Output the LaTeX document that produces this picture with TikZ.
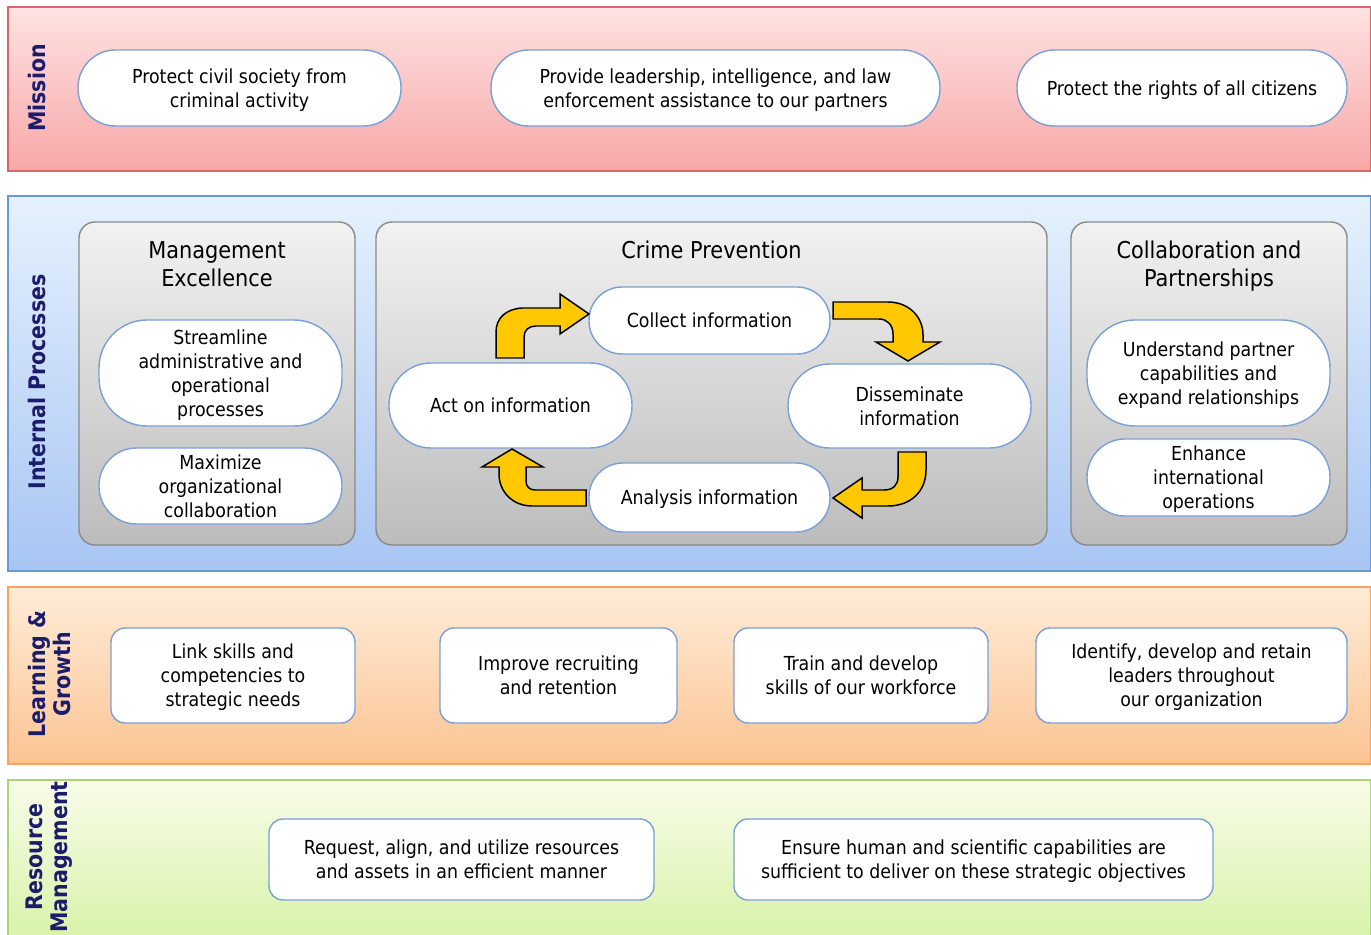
\documentclass[tikz,border=0pt]{standalone}
\usepackage{fontspec}
\setmainfont{DejaVu Sans Condensed}
\definecolor{navy}{RGB}{28,28,108}
\definecolor{pillblue}{RGB}{122,160,214}
\definecolor{gold}{RGB}{255,200,0}
\definecolor{mtop}{RGB}{255,226,226}
\definecolor{mbot}{RGB}{247,168,168}
\definecolor{mline}{RGB}{217,102,104}
\definecolor{itop}{RGB}{229,241,253}
\definecolor{ibot}{RGB}{168,197,243}
\definecolor{iline}{RGB}{104,152,214}
\definecolor{ltop}{RGB}{254,236,215}
\definecolor{lbot}{RGB}{252,196,148}
\definecolor{lline}{RGB}{247,162,94}
\definecolor{rtop}{RGB}{248,252,232}
\definecolor{rbot}{RGB}{214,242,166}
\definecolor{rline}{RGB}{172,212,120}
\definecolor{gtop}{RGB}{242,242,242}
\definecolor{gbot}{RGB}{188,188,188}
\definecolor{gline}{RGB}{138,138,138}
\begin{document}
\begin{tikzpicture}[x=0.02cm,y=-0.02cm,
  wh/.style 2 args={minimum width=#1*0.02cm, minimum height=#2*0.02cm},
  rc/.style={rounded corners=#1*0.02cm},
  band/.style={draw, line width=1.1pt, inner sep=0pt, anchor=north west},
  lab/.style={rotate=90, align=center, text=navy,
    font=\bfseries\fontsize{13}{14.2}\selectfont},
  group/.style={draw=gline, line width=0.8pt, top color=gtop, bottom color=gbot,
    rc=16, inner sep=0pt},
  gtitle/.style={align=center, text depth=0pt, font=\fontsize{13.2}{15.9}\selectfont},
  pill/.style={draw=pillblue, line width=0.8pt, fill=white, align=center,
    inner sep=0pt, text depth=0pt, font=\fontsize{11}{13.6}\selectfont},
  blockarrow/.style={draw=black, line width=0.85pt, fill=gold, line join=miter}
]
\useasboundingbox (0,0) rectangle (1371,935);
\clip (0,0) rectangle (1371,935);

% ---- bands ----
\node[band, draw=mline, top color=mtop, bottom color=mbot, wh={1363}{164}] (bandM) at (7,6) {};
\node[band, draw=iline, top color=itop, bottom color=ibot, wh={1363}{375}] (bandI) at (7,195) {};
\node[band, draw=lline, top color=ltop, bottom color=lbot, wh={1363}{177}] (bandL) at (7,586) {};
\node[band, draw=rline, top color=rtop, bottom color=rbot, wh={1363}{170}] (bandR) at (7,779) {};

% ---- band labels ----
\node[lab] (labM) at (37,88) {Mission};
\node[lab] (labI) at (37,382) {Internal Processes};
\node[lab] (labL) at (49.5,674) {Learning \&\\Growth};
\node[lab] (labR) at (49.5,857) {Resource\\Management};

% ---- mission ----
\node[pill, wh={323}{76}, rc=37.5] (m1) at (239.5,88) {Protect civil society from\\criminal activity};
\node[pill, wh={449}{76}, rc=37.5] (m2) at (715.5,88) {Provide leadership, intelligence, and law\\enforcement assistance to our partners};
\node[pill, wh={330}{76}, rc=37.5] (m3) at (1182,88) {Protect the rights of all citizens};

% ---- internal process groups ----
\node[group, wh={276}{323}] (g1) at (217,383.5) {};
\node[group, wh={671}{323}] (g2) at (711.5,383.5) {};
\node[group, wh={276}{323}] (g3) at (1209,383.5) {};
\node[gtitle] (t1) at (217,264) {Management\\Excellence};
\node[gtitle] (t2) at (711.5,250) {Crime Prevention};
\node[gtitle] (t3) at (1209,264) {Collaboration and\\Partnerships};

\node[pill, wh={243}{106}, rc=48] (stream) at (220.5,373) {Streamline\\administrative and\\operational\\processes};
\node[pill, wh={243}{76}, rc=37.5] (maxim) at (220.5,486) {Maximize\\organizational\\collaboration};

\node[pill, wh={241}{67}, rc=33] (collect) at (709.5,320.5) {Collect information};
\node[pill, wh={243}{85}, rc=42] (act) at (510.5,405.5) {Act on information};
\node[pill, wh={243}{84}, rc=41.5] (dissem) at (909.5,406) {Disseminate\\information};
\node[pill, wh={241}{69}, rc=34] (analysis) at (709.5,497.5) {Analysis information};

\node[pill, wh={243}{106}, rc=48] (partner) at (1208.5,373) {Understand partner\\capabilities and\\expand relationships};
\node[pill, wh={243}{77}, rc=38] (intl) at (1208.5,477.5) {Enhance\\international\\operations};

% ---- cycle arrows ----
% act -> collect
\filldraw[blockarrow] (496,358) -- (496,332)
  .. controls (496,318) and (506,309) .. (522,308) -- (560,308) -- (560,294)
  -- (589,314) -- (560,334) -- (560,326) -- (536,326)
  .. controls (529,326) and (524,330) .. (524,337) -- (524,358) -- cycle;
% collect -> disseminate
\filldraw[blockarrow] (833,302) -- (888,302)
  .. controls (908,302) and (923,316) .. (923,335) -- (923,342) -- (940,342)
  -- (908,361) -- (876,342) -- (893,342) -- (893,334)
  .. controls (893,325) and (887,319) .. (879,319) -- (833,319) -- cycle;
% disseminate -> analysis
\filldraw[blockarrow] (898,452) -- (926,452) -- (926,470)
  .. controls (926,492) and (910,506) .. (888,506) -- (862,506) -- (862,518)
  -- (833,498) -- (862,478) -- (862,490) -- (884,490)
  .. controls (893,490) and (898,485) .. (898,477) -- cycle;
% analysis -> act
\filldraw[blockarrow] (586,490) -- (586,506) -- (532,506)
  .. controls (513,506) and (499,492) .. (499,474) -- (499,467) -- (482,467)
  -- (512,449) -- (543,467) -- (526,467) -- (526,481)
  .. controls (526,486) and (529,490) .. (535,490) -- cycle;

% ---- learning & growth ----
\node[pill, wh={244}{95}, rc=14] (l1) at (233,675.5) {Link skills and\\competencies to\\strategic needs};
\node[pill, wh={237}{95}, rc=14] (l2) at (558.5,675.5) {Improve recruiting\\and retention};
\node[pill, wh={254}{95}, rc=14] (l3) at (861,675.5) {Train and develop\\skills of our workforce};
\node[pill, wh={311}{95}, rc=14] (l4) at (1191.5,675.5) {Identify, develop and retain\\leaders throughout\\our organization};

% ---- resource management ----
\node[pill, wh={385}{81}, rc=14] (r1) at (461.5,859.5) {Request, align, and utilize resources\\and assets in an efficient manner};
\node[pill, wh={479}{81}, rc=14] (r2) at (973.5,859.5) {Ensure human and scientific capabilities are\\sufficient to deliver on these strategic objectives};
\end{tikzpicture}
\end{document}
